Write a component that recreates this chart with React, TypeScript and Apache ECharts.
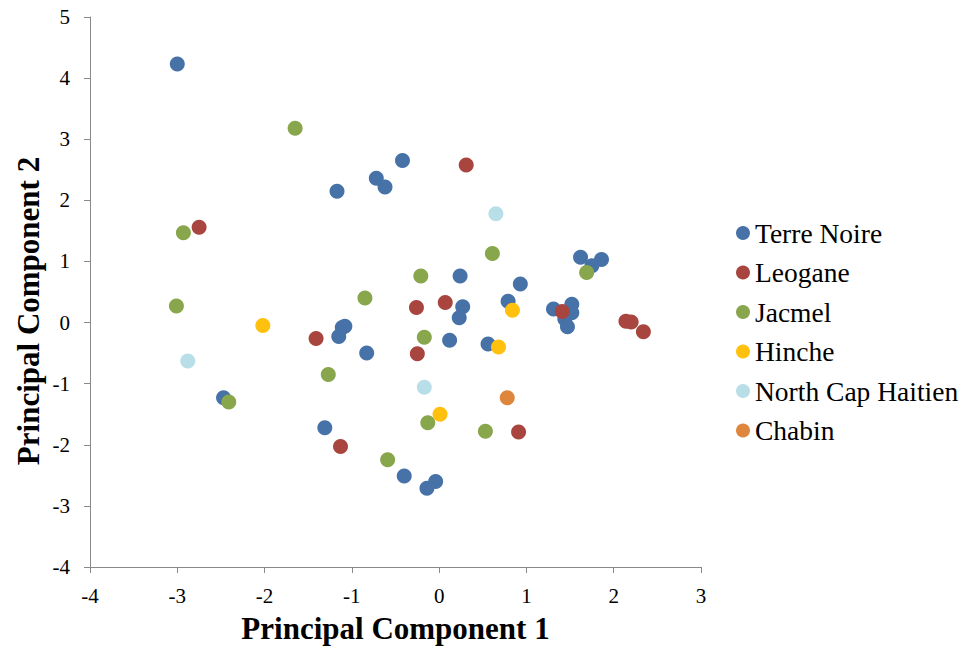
import React, { useEffect, useRef } from "react";
import * as echarts from "echarts";

const seriesNames = ["Terre Noire", "Leogane", "Jacmel", "Hinche", "North Cap Haitien", "Chabin"];
const seriesColors = ["#4672A8", "#A9453F", "#88A64B", "#FFC10E", "#B8DFE8", "#DE863C"];

const terreNoire: [number, number][] = [
  [-3.0, 4.23], [-0.42, 2.65], [-0.72, 2.36], [-0.62, 2.22], [-1.17, 2.15],
  [1.62, 1.07], [1.86, 1.03], [1.75, 0.93], [0.24, 0.76], [0.93, 0.63],
  [0.79, 0.35], [0.27, 0.26], [0.23, 0.08], [1.31, 0.22], [1.52, 0.3],
  [1.52, 0.16], [1.44, 0.06], [1.47, -0.07], [-1.08, -0.06], [-1.11, -0.08],
  [-1.15, -0.23], [0.12, -0.29], [0.56, -0.35], [-0.83, -0.5], [-2.47, -1.23],
  [-1.31, -1.72], [-0.4, -2.51], [-0.04, -2.6], [-0.14, -2.71],
];
const leogane: [number, number][] = [
  [-2.75, 1.56], [0.31, 2.58], [-0.26, 0.245], [0.07, 0.33], [1.41, 0.18],
  [2.14, 0.02], [2.2, 0.01], [2.34, -0.15], [-1.41, -0.26], [-0.25, -0.51],
  [-1.13, -2.03], [0.91, -1.79],
];
const jacmel: [number, number][] = [
  [-1.65, 3.18], [-2.93, 1.47], [-3.01, 0.27], [0.61, 1.13], [-0.21, 0.76],
  [1.69, 0.82], [-0.85, 0.4], [-0.17, -0.24], [-1.27, -0.85], [-2.41, -1.3],
  [-0.13, -1.64], [0.53, -1.78], [-0.59, -2.245],
];
const hinche: [number, number][] = [
  [-2.02, -0.05], [0.84, 0.2], [0.68, -0.4], [0.01, -1.5],
];
const northCapHaitien: [number, number][] = [
  [-2.88, -0.63], [0.65, 1.78], [-0.17, -1.06],
];
const chabin: [number, number][] = [[0.78, -1.23]];

const allData = [terreNoire, leogane, jacmel, hinche, northCapHaitien, chabin];

const xTitle = "Principal Component 1";
const yTitle = "Principal Component 2";

export default function App() {
  const ref = useRef<HTMLDivElement>(null);
  useEffect(() => {
    if (!ref.current) return;
    const chart = echarts.init(ref.current, null, { renderer: "svg" });
    const font = "'Liberation Serif', 'Times New Roman', serif";
    chart.setOption({
      animation: false,
      textStyle: { fontFamily: font },
      grid: { left: 90, right: 271, top: 17, bottom: 71, containLabel: false },
      legend: {
        orient: "vertical",
        left: 731,
        top: 214,
        itemWidth: 14,
        itemHeight: 14,
        itemGap: 11.5,
        icon: "circle",
        textStyle: { fontFamily: font, fontSize: 27.5, color: "#000" },
        data: seriesNames,
      },
      xAxis: {
        type: "value",
        min: -4,
        max: 3,
        interval: 1,
        name: xTitle,
        nameLocation: "middle",
        nameGap: 46,
        nameTextStyle: { fontFamily: font, fontSize: 31, fontWeight: "bold", color: "#000" },
        axisLine: { onZero: false, lineStyle: { color: "#898989", width: 1 } },
        axisTick: { show: true, inside: false, length: 6, lineStyle: { color: "#898989" } },
        axisLabel: { fontFamily: font, fontSize: 21, color: "#000", margin: 18 },
        splitLine: { show: false },
      },
      yAxis: {
        type: "value",
        min: -4,
        max: 5,
        interval: 1,
        axisLine: { show: true, onZero: false, lineStyle: { color: "#898989", width: 1 } },
        axisTick: { show: true, inside: false, length: 6, lineStyle: { color: "#898989" } },
        axisLabel: { fontFamily: font, fontSize: 21, color: "#000", margin: 20 },
        splitLine: { show: false },
      },
      graphic: [
        {
          type: "text",
          x: 28,
          y: 311,
          rotation: Math.PI / 2,
          style: {
            text: yTitle,
            font: "bold 31px 'Liberation Serif', 'Times New Roman', serif",
            fill: "#000",
            textAlign: "center",
            textVerticalAlign: "middle",
          },
        },
      ],
      series: seriesNames.map((name, i) => ({
        name,
        type: "scatter",
        symbol: "circle",
        symbolSize: 15,
        itemStyle: { color: seriesColors[i], opacity: 1 },
        data: allData[i],
      })),
    });
    return () => chart.dispose();
  }, []);
  return (
    <div
      ref={ref}
      style={{ position: "absolute", left: 0, top: 0, width: 972, height: 649, background: "#fff" }}
    />
  );
}
